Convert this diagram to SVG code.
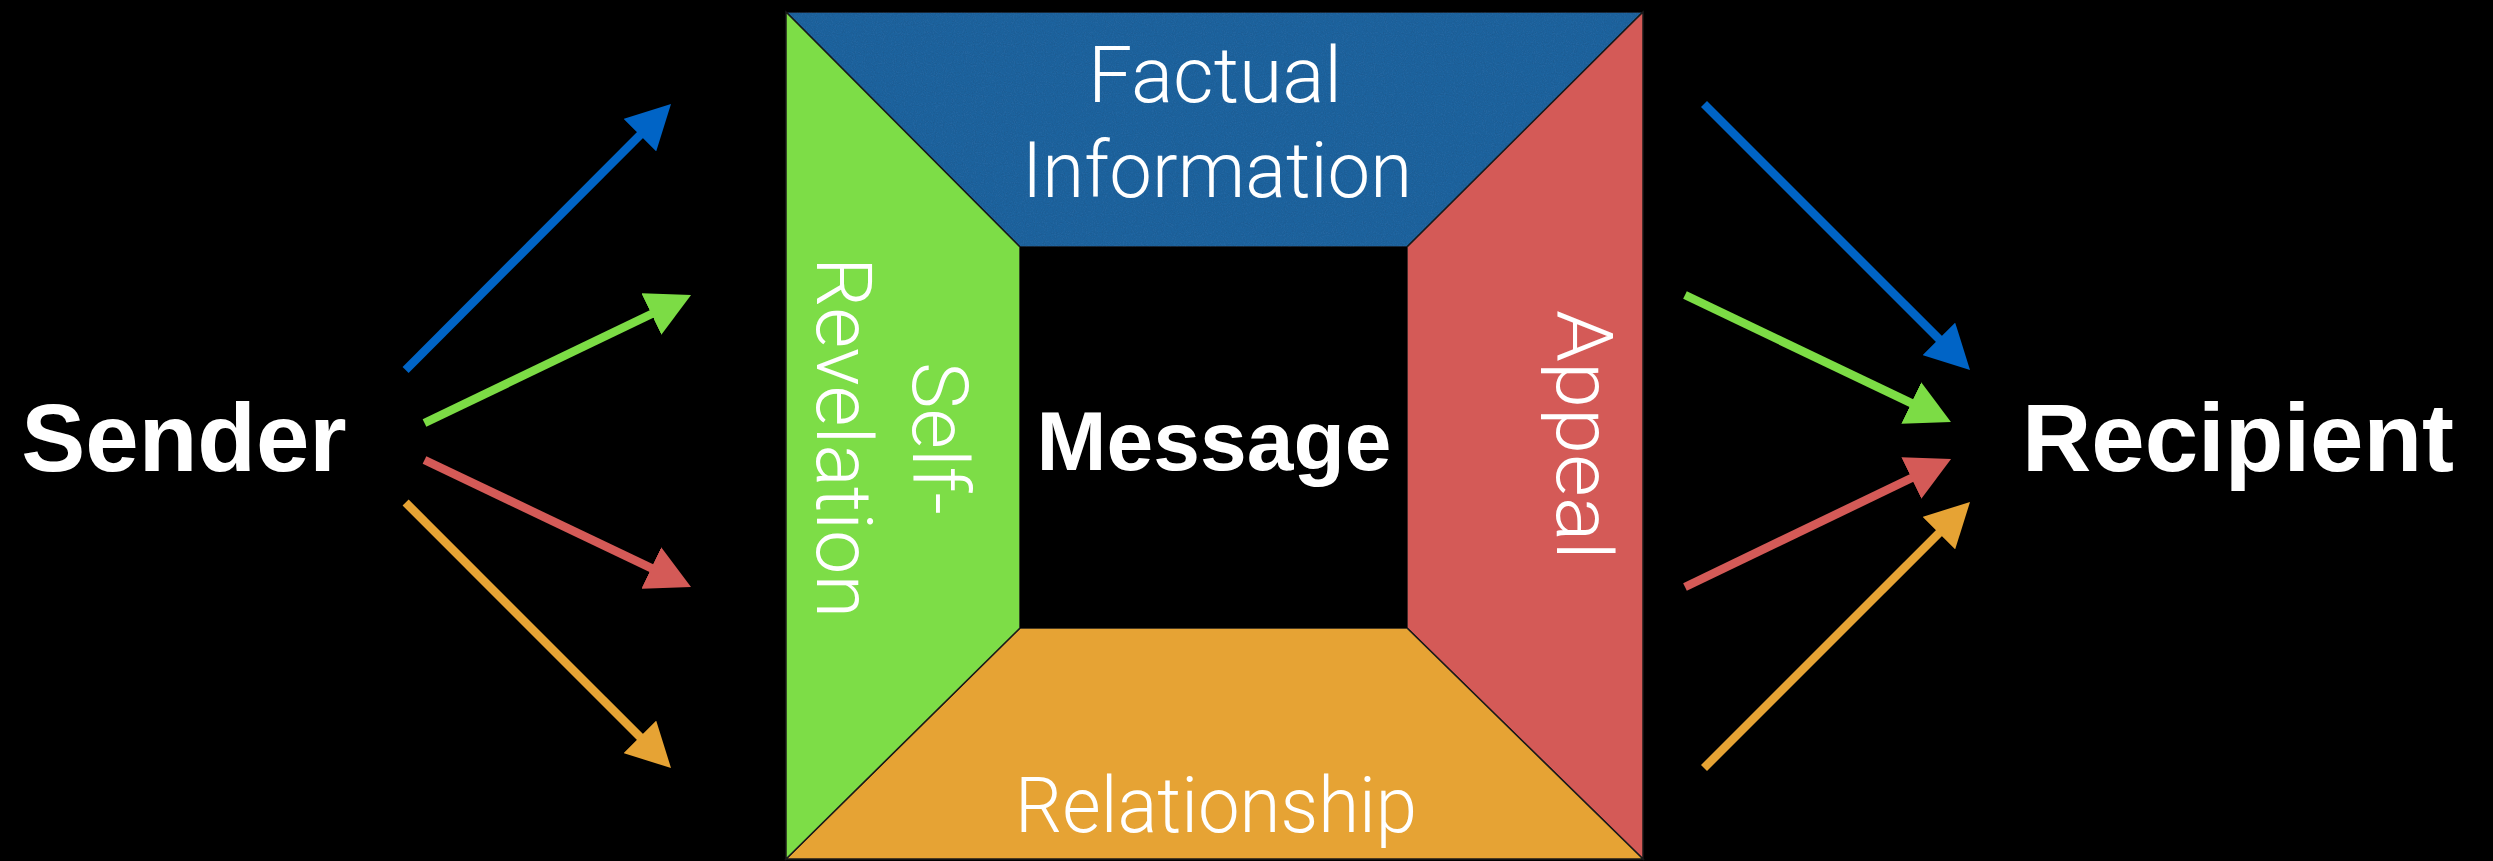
<svg xmlns="http://www.w3.org/2000/svg" width="2493" height="861" viewBox="0 0 2493 861">
  <style>
    .bold { font-family: "Liberation Sans", Arial, sans-serif; font-weight: bold; fill: #ffffff; }
    .light { font-family: Roboto, Lato, "Open Sans", sans-serif; font-weight: 300; fill: #ffffff; font-size: 78px; }
    .face { stroke: #1a1a1a; stroke-width: 1.5; stroke-linejoin: miter; }
    .shaft { stroke-width: 8.5; fill: none; stroke-linecap: butt; }
  </style>
  <defs>
    <filter id="grain" x="0" y="0" width="100%" height="100%">
      <feTurbulence type="fractalNoise" baseFrequency="0.9" numOctaves="2" seed="3" result="n"/>
      <feColorMatrix in="n" type="matrix" values="0 0 0 0 0  0 0 0 0 0  0 0 0 0 0  0.35 0 0 0 -0.12" result="a"/>
      <feComposite in="a" in2="SourceGraphic" operator="in" result="b"/>
      <feMerge><feMergeNode in="SourceGraphic"/><feMergeNode in="b"/></feMerge>
    </filter>
    <marker id="hBlue" markerUnits="userSpaceOnUse" viewBox="0 0 44 46" markerWidth="44" markerHeight="46" refX="14" refY="23" orient="auto"><path d="M0,0 L44,23 L0,46 Z" fill="#0064c6"/></marker>
    <marker id="hGreen" markerUnits="userSpaceOnUse" viewBox="0 0 44 46" markerWidth="44" markerHeight="46" refX="14" refY="23" orient="auto"><path d="M0,0 L44,23 L0,46 Z" fill="#7cdc45"/></marker>
    <marker id="hRed" markerUnits="userSpaceOnUse" viewBox="0 0 44 46" markerWidth="44" markerHeight="46" refX="14" refY="23" orient="auto"><path d="M0,0 L44,23 L0,46 Z" fill="#d45a57"/></marker>
    <marker id="hOrange" markerUnits="userSpaceOnUse" viewBox="0 0 44 46" markerWidth="44" markerHeight="46" refX="14" refY="23" orient="auto"><path d="M0,0 L44,23 L0,46 Z" fill="#e6a334"/></marker>
  </defs>

  <rect x="0" y="0" width="2493" height="861" fill="#000000"/>

  <g id="factual-information">
    <polygon class="face" points="786,12 1643,12 1407,247 1020,247" fill="#2265a0" filter="url(#grain)"/>
    <text class="light" x="1215" y="102" text-anchor="middle" textLength="254" lengthAdjust="spacingAndGlyphs">Factual</text>
    <text class="light" x="1217" y="197" text-anchor="middle" textLength="390" lengthAdjust="spacingAndGlyphs">Information</text>
  </g>

  <g id="appeal">
    <polygon class="face" points="1643,12 1643,859 1407,628 1407,247" fill="#d45a57"/>
    <text class="light" transform="translate(1557,435) rotate(90)" x="0" y="0" text-anchor="middle" textLength="250" lengthAdjust="spacingAndGlyphs">Appeal</text>
  </g>

  <g id="relationship">
    <polygon class="face" points="786,859 1643,859 1407,628 1020,628" fill="#e6a334"/>
    <text class="light" x="1216" y="832" text-anchor="middle" textLength="402" lengthAdjust="spacingAndGlyphs">Relationship</text>
  </g>

  <g id="self-revelation">
    <polygon class="face" points="786,12 786,859 1020,628 1020,247" fill="#7ddd47"/>
    <text class="light" transform="translate(913,438.5) rotate(90)" x="0" y="0" text-anchor="middle" textLength="153" lengthAdjust="spacingAndGlyphs">Self-</text>
    <text class="light" transform="translate(817,437.5) rotate(90)" x="0" y="0" text-anchor="middle" textLength="361" lengthAdjust="spacingAndGlyphs">Revelation</text>
  </g>

  <g id="message">
    <rect x="1020" y="247" width="387" height="381" fill="#000000"/>
    <text class="bold" x="1214" y="469.5" font-size="84" text-anchor="middle">Message</text>
  </g>

  <g id="sender">
    <text class="bold" x="184" y="471" font-size="96" text-anchor="middle">Sender</text>
  </g>

  <g id="recipient">
    <text class="bold" x="2238" y="471" font-size="96" text-anchor="middle">Recipient</text>
  </g>

  <g id="connectors">
    <line class="shaft" x1="405.6" y1="370" x2="649.8" y2="125.2" stroke="#0064c6" marker-end="url(#hBlue)"/>
    <line class="shaft" x1="424.5" y1="423" x2="664" y2="308" stroke="#7cdc45" marker-end="url(#hGreen)"/>
    <line class="shaft" x1="424.5" y1="460" x2="663.9" y2="574.1" stroke="#d45a57" marker-end="url(#hRed)"/>
    <line class="shaft" x1="405.6" y1="502.5" x2="649.8" y2="746.8" stroke="#e6a334" marker-end="url(#hOrange)"/>

    <line class="shaft" x1="1704" y1="104" x2="1948.8" y2="348.8" stroke="#0064c6" marker-end="url(#hBlue)"/>
    <line class="shaft" x1="1685" y1="295" x2="1923.9" y2="409.1" stroke="#7cdc45" marker-end="url(#hGreen)"/>
    <line class="shaft" x1="1685" y1="587" x2="1924" y2="472" stroke="#d45a57" marker-end="url(#hRed)"/>
    <line class="shaft" x1="1704" y1="768" x2="1948.8" y2="523.2" stroke="#e6a334" marker-end="url(#hOrange)"/>
  </g>
</svg>
